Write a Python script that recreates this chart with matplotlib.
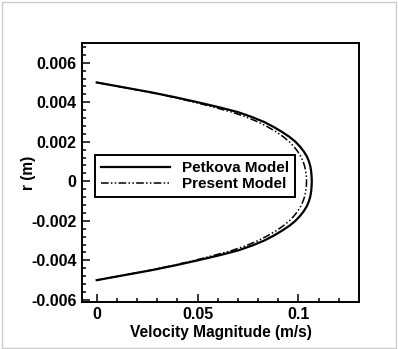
import matplotlib
matplotlib.use("Agg")
import matplotlib.pyplot as plt
from matplotlib.patches import Rectangle
from matplotlib.ticker import MultipleLocator

# radius (m), upper half; lower half mirrored
r_half = [0.005, 0.00475, 0.0045, 0.00425, 0.004, 0.00375, 0.0035, 0.00325, 0.003,
          0.00275, 0.0025, 0.00225, 0.002, 0.00175, 0.0015, 0.00125, 0.001,
          0.00075, 0.0005, 0.00025, 0.0]
petkova_half = [0.0, 0.0135, 0.027, 0.039, 0.050, 0.0605, 0.070, 0.077, 0.083,
                0.0877, 0.0918, 0.0955, 0.0985, 0.1008, 0.1027, 0.1042, 0.1052,
                0.1059, 0.1063, 0.1065, 0.1066]
present_half = [0.0, 0.0133, 0.0265, 0.038, 0.0485, 0.058, 0.067, 0.0742, 0.080,
                0.0848, 0.089, 0.0925, 0.0955, 0.0978, 0.0997, 0.1012, 0.1023,
                0.1031, 0.1036, 0.1039, 0.104]

r = r_half + [-v for v in r_half[::-1][1:]]
petkova = petkova_half + petkova_half[::-1][1:]
present = present_half + present_half[::-1][1:]

plt.rcParams['font.family'] = ['Liberation Sans', 'DejaVu Sans']
plt.rcParams['font.weight'] = 'bold'

fig = plt.figure(figsize=(3.98, 3.49), dpi=100)
ax = fig.add_axes([0.206, 0.135, 0.696, 0.742])

ax.plot(petkova, r, color='black', lw=1.6, label='Petkova Model')
ax.plot(present, r, color='black', lw=1.1,
        linestyle=(0, (5, 1.5, 1, 1.5, 1, 1.5)), label='Present Model')

ax.set_xlim(-0.0073, 0.130)
ax.set_ylim(-0.0061, 0.007)
ax.xaxis.set_minor_locator(MultipleLocator(0.01))
ax.yaxis.set_minor_locator(MultipleLocator(0.0004))
ax.set_xticks([0, 0.05, 0.1])
ax.set_xticklabels(['0', '0.05', '0.1'])
ax.set_yticks([-0.006, -0.004, -0.002, 0, 0.002, 0.004, 0.006])
ax.set_yticklabels(['-0.006', '-0.004', '-0.002', '0', '0.002', '0.004', '0.006'])

ax.tick_params(which='both', direction='in', top=False, right=False,
               width=1.1, labelsize=11.5)
ax.tick_params(which='major', length=6, pad=4)
ax.tick_params(which='minor', length=3)
for s in ax.spines.values():
    s.set_linewidth(1.4)

ax.set_xlabel('Velocity Magnitude (m/s)', fontsize=11.2, fontweight='bold', labelpad=2)
ax.set_ylabel('r (m)', fontsize=11.2, fontweight='bold', labelpad=-4)

leg = ax.legend(loc='upper left', bbox_to_anchor=(0.047, 0.568), borderaxespad=0,
                fancybox=False, edgecolor='black', framealpha=1,
                handlelength=4.5, handletextpad=0.8, borderpad=0.4,
                labelspacing=0.15, prop={'size': 11, 'weight': 'bold'})
leg.get_frame().set_linewidth(1.4)

fig.patches.append(Rectangle((0.005, 0.004), 0.99, 0.99, transform=fig.transFigure,
                             fill=False, edgecolor='#cccccc', lw=1))

fig.savefig('out.png', dpi=100)
